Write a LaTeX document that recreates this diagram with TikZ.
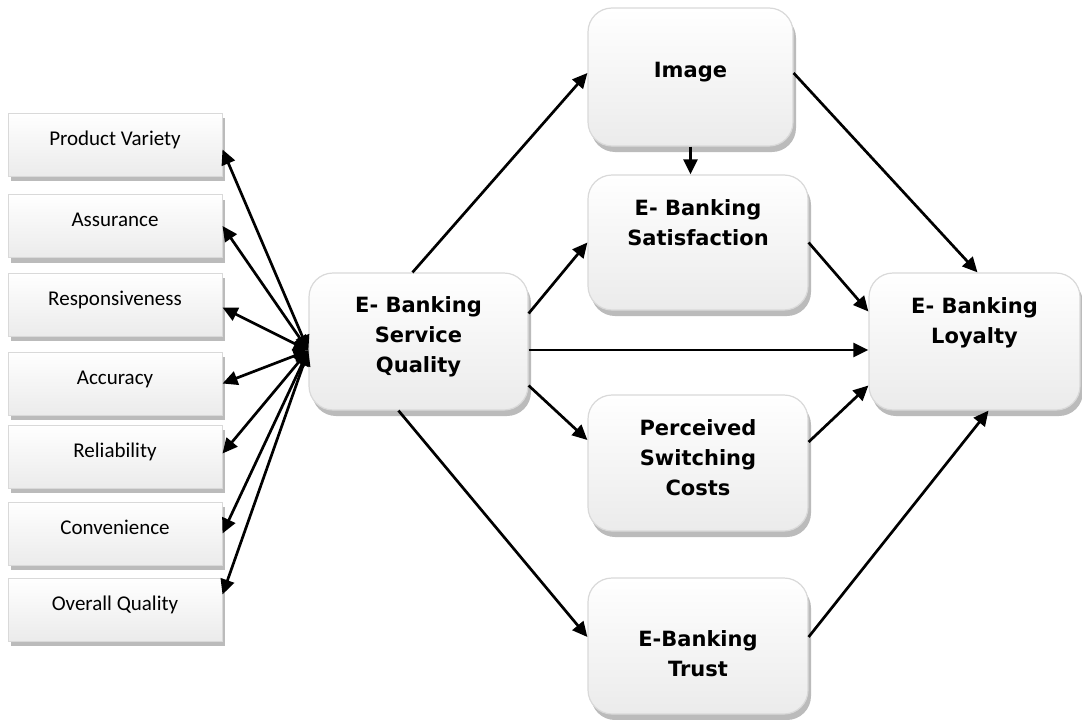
\documentclass[tikz,border=0pt]{standalone}
\usepackage{fontspec}
\setmainfont{DejaVu Sans}
\newfontfamily\carlito{Carlito}
\usetikzlibrary{arrows.meta,shadows}
\definecolor{boxline}{HTML}{D9D9D9}
\definecolor{boxbottom}{HTML}{EBEBEB}
\definecolor{boxshadow}{HTML}{BBBBBB}
\newcommand{\boxlines}[2]{\raisebox{#1}[0pt][0pt]{\begin{tabular}{@{}c@{}}#2\end{tabular}}}
\begin{document}
\begin{tikzpicture}[x=1pt, y=-1pt, >={Triangle[length=15pt,width=14pt]},
    factor/.style={draw=boxline, line width=1pt, top color=white, bottom color=boxbottom, inner sep=0pt,
        minimum width=214pt, minimum height=63pt, font=\carlito\fontsize{21}{30}\selectfont,
        drop shadow={shadow xshift=3pt, shadow yshift=-5pt, fill=boxshadow, opacity=1}},
    construct/.style={draw=boxline, line width=1.2pt, rounded corners=24pt, top color=white, bottom color=boxbottom,
        inner sep=0pt, font=\bfseries\fontsize{21}{30}\selectfont,
        drop shadow={shadow xshift=3pt, shadow yshift=-6pt, fill=boxshadow, opacity=1}},
    link/.style={line width=2.7pt, ->}]
\useasboundingbox (0,0) rectangle (1082,720);

\foreach \n/\t/\y in {pv/Product Variety/144.5, as/Assurance/226, rs/Responsiveness/304.5, ac/Accuracy/383.5,
    rl/Reliability/456.5, cv/Convenience/533.5, oq/Overall Quality/609.5}
    \node[factor] (\n) at (115,\y) {\boxlines{0pt}{\t}};

\node[construct, minimum width=219pt, minimum height=137pt] (sq) at (418.5,341.5) {\boxlines{0pt}{E- Banking\\Service\\Quality}};
\node[construct, minimum width=205pt, minimum height=138pt] (im) at (690.5,77) {\boxlines{0pt}{Image}};
\node[construct, minimum width=220pt, minimum height=135pt] (sa) at (698,242.5) {\boxlines{13pt}{E- Banking\\Satisfaction}};
\node[construct, minimum width=220pt, minimum height=136pt] (pc) at (698,463) {\boxlines{-2pt}{Perceived\\Switching\\Costs}};
\node[construct, minimum width=220pt, minimum height=136pt] (tr) at (698,646) {\boxlines{-15pt}{E-Banking\\Trust}};
\node[construct, minimum width=211pt, minimum height=137pt] (lo) at (974.5,341.5) {\boxlines{14pt}{E- Banking\\Loyalty}};

\coordinate (hub) at ([yshift=-9pt]sq.west);
\foreach \n/\s in {pv/-5pt, as/0pt, rs/-3pt, ac/0pt, rl/3pt, cv/0pt, oq/15pt}
    \draw[link,<->] ([yshift=\s]\n.east) -- (hub);

\draw[link] ([xshift=-6pt]sq.north) -- ([yshift=4pt]im.west);
\draw[link] ([yshift=28pt]sq.east) -- (sa.west);
\draw[link] ([yshift=-8.5pt]sq.east) -- ([yshift=-8.5pt]lo.west);
\draw[link] ([yshift=-44pt]sq.east) -- ([yshift=23pt]pc.west);
\draw[link] ([xshift=-20pt]sq.south) -- ([yshift=9pt]tr.west);
\draw[link] (im.south) -- (im.south |- sa.north);
\draw[link] ([yshift=4pt]im.east) -- ([xshift=3pt]lo.north);
\draw[link] (sa.east) -- ([yshift=30pt]lo.west);
\draw[link] ([yshift=21pt]pc.east) -- ([yshift=-44pt]lo.west);
\draw[link] ([yshift=9pt]tr.east) -- ([xshift=14pt]lo.south);
\end{tikzpicture}
\end{document}
